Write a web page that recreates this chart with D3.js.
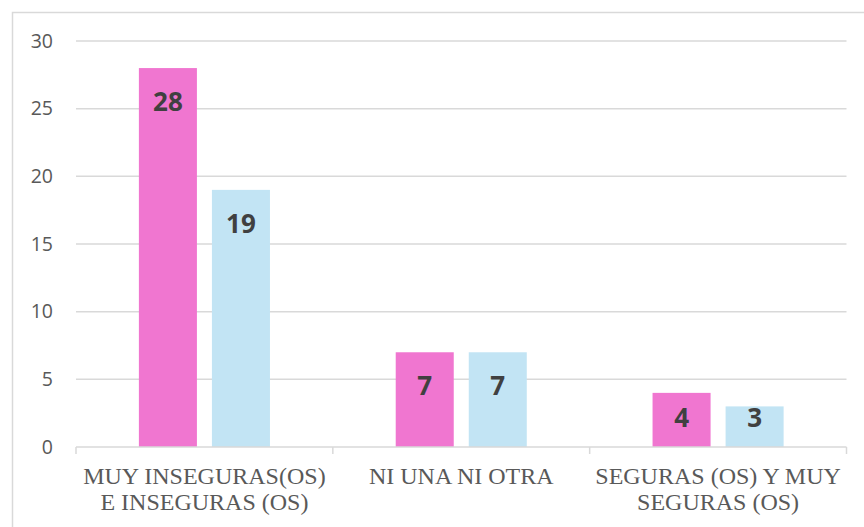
<!DOCTYPE html>
<html>
<head>
<meta charset="utf-8">
<script src="https://cdn.jsdelivr.net/npm/d3@7"></script>
<style>
  html, body { margin: 0; padding: 0; background: #fff; }
  svg { display: block; }
</style>
</head>
<body>
<svg id="chart" width="864" height="527"></svg>
<script>
const categories = [
  ["MUY INSEGURAS(OS)", "E INSEGURAS (OS)"],
  ["NI UNA NI OTRA"],
  ["SEGURAS (OS) Y MUY", "SEGURAS (OS)"]
];
const seriesNames = ["Mujeres", "Hombres"];
const seriesA = [28, 7, 4];
const seriesB = [19, 7, 3];
const yTicks = [0, 5, 10, 15, 20, 25, 30];
const colors = ["#f076d0", "#c2e4f4"];

const svg = d3.select("#chart");
const W = 864, H = 527;
const m = { left: 76, right: 17.5, top: 41, bottom: 80 };

// outer border
svg.append("rect")
  .attr("x", 12.5).attr("y", 12.5)
  .attr("width", W).attr("height", H)
  .attr("fill", "none").attr("stroke", "#d9d9d9").attr("stroke-width", 1.5);

const catKeys = categories.map((c, i) => i);
const x0 = d3.scaleBand().domain(catKeys).range([m.left, W - m.right]).paddingInner(0).paddingOuter(0);
const x1 = d3.scaleBand().domain([0, 1]).range([0, x0.bandwidth()]).paddingInner(0.2055).paddingOuter(0.861);
const y = d3.scaleLinear().domain([0, 30]).range([447, m.top]);

// gridlines
svg.append("g").selectAll("line").data(yTicks.filter(t => t > 0)).join("line")
  .attr("x1", m.left).attr("x2", W - m.right)
  .attr("y1", d => y(d)).attr("y2", d => y(d))
  .attr("stroke", "#d9d9d9").attr("stroke-width", 1.5);

// y tick labels
svg.append("g").selectAll("text").data(yTicks).join("text")
  .attr("x", 53).attr("y", d => y(d))
  .attr("dy", "0.35em")
  .attr("text-anchor", "end")
  .attr("font-family", "'Open Sans', sans-serif")
  .attr("font-size", 19.5)
  .attr("fill", "#595959")
  .text(d => d);

// bars
const data = [];
catKeys.forEach(i => {
  data.push({ c: i, s: 0, v: seriesA[i] });
  data.push({ c: i, s: 1, v: seriesB[i] });
});
svg.append("g").selectAll("rect").data(data).join("rect")
  .attr("x", d => x0(d.c) + x1(d.s))
  .attr("y", d => y(d.v))
  .attr("width", x1.bandwidth())
  .attr("height", d => y(0) - y(d.v))
  .attr("fill", d => colors[d.s]);

// value labels
svg.append("g").selectAll("text").data(data).join("text")
  .attr("x", d => x0(d.c) + x1(d.s) + x1.bandwidth() / 2)
  .attr("y", d => Math.min(y(d.v) + 43, y(0) - 20))
  .attr("text-anchor", "middle")
  .attr("font-family", "'Open Sans', sans-serif")
  .attr("font-weight", "bold")
  .attr("font-size", 26)
  .attr("fill", "#404040")
  .text(d => d.v);

// x axis line and ticks
const axis = svg.append("g");
axis.append("line")
  .attr("x1", m.left).attr("x2", W - m.right)
  .attr("y1", y(0)).attr("y2", y(0))
  .attr("stroke", "#d9d9d9").attr("stroke-width", 1.5);
const bounds = catKeys.map(i => x0(i)).concat([x0(catKeys.length - 1) + x0.bandwidth()]);
axis.selectAll("line.tk").data(bounds).join("line").attr("class", "tk")
  .attr("x1", d => d).attr("x2", d => d)
  .attr("y1", y(0)).attr("y2", y(0) + 7)
  .attr("stroke", "#d9d9d9").attr("stroke-width", 1.5);

// category labels
const cl = svg.append("g").selectAll("text").data(catKeys).join("text")
  .attr("x", d => x0(d) + x0.bandwidth() / 2)
  .attr("y", 484)
  .attr("text-anchor", "middle")
  .attr("font-family", "'Liberation Serif', serif")
  .attr("font-size", 24)
  .attr("fill", "#595959");
cl.selectAll("tspan").data(d => categories[d]).join("tspan")
  .attr("x", function() { return d3.select(this.parentNode).attr("x"); })
  .attr("dy", (d, i) => i === 0 ? 0 : 26)
  .text(d => d);
</script>
</body>
</html>
